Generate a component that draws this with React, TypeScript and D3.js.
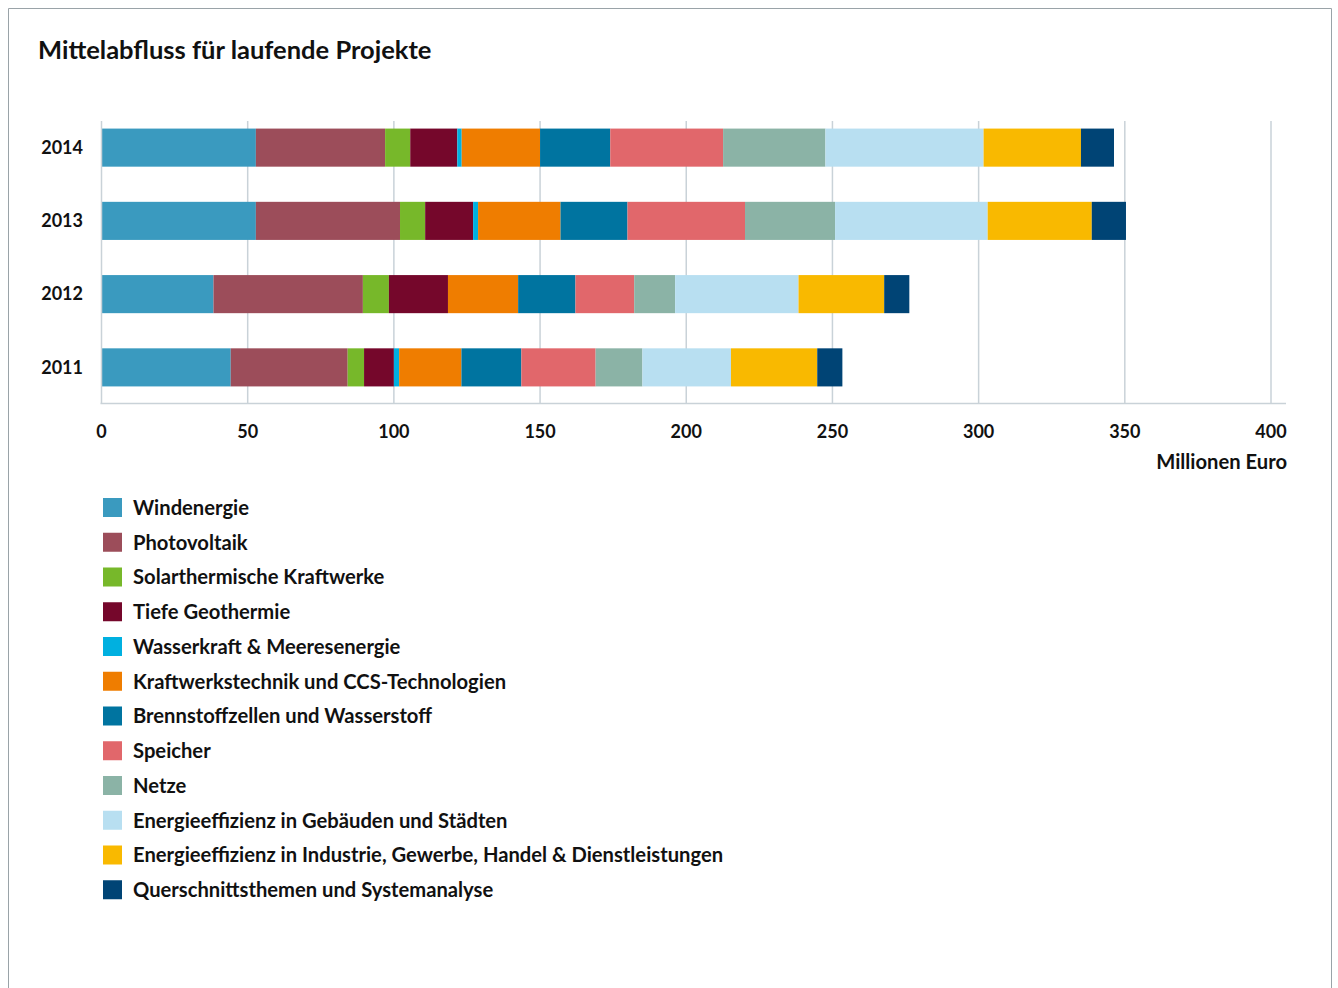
import React from "react";
import * as d3 from "d3";

const years = ["2014", "2013", "2012", "2011"];
const categories = [
  "Windenergie",
  "Photovoltaik",
  "Solarthermische Kraftwerke",
  "Tiefe Geothermie",
  "Wasserkraft & Meeresenergie",
  "Kraftwerkstechnik und CCS-Technologien",
  "Brennstoffzellen und Wasserstoff",
  "Speicher",
  "Netze",
  "Energieeffizienz in Gebäuden und Städten",
  "Energieeffizienz in Industrie, Gewerbe, Handel & Dienstleistungen",
  "Querschnittsthemen und Systemanalyse",
];
const colors = [
  "#3a9abf", "#9c4d5a", "#77b82a", "#75072b", "#00b0e0", "#ef7d00",
  "#0074a0", "#e1676b", "#8bb3a6", "#b8dff1", "#f9b900", "#004475",
];
// values per year, same order as categories (Mio. Euro)
const v2014 = [52.8, 44.2, 8.6, 16.1, 1.5, 26.8, 24.0, 38.6, 35.0, 54.1, 33.3, 11.3];
const v2013 = [52.8, 49.3, 8.6, 16.4, 1.7, 28.2, 22.9, 40.2, 30.8, 52.2, 35.6, 11.7];
const v2012 = [38.3, 51.1, 8.9, 20.2, 0, 24.0, 19.6, 20.1, 14.0, 42.2, 29.3, 8.6];
const v2011 = [44.2, 40.0, 5.6, 10.2, 1.8, 21.3, 20.5, 25.4, 16.0, 30.3, 29.5, 8.6];
const xTicks = [0, 50, 100, 150, 200, 250, 300, 350, 400];

const FONT = "Lato, 'Open Sans', sans-serif";

export default function App() {
  const W = 1338, H = 988;
  const rows = [v2014, v2013, v2012, v2011].map((vals, i) => {
    const r: any = { year: years[i] };
    categories.forEach((c, j) => (r[c] = vals[j]));
    return r;
  });
  const series = d3.stack().keys(categories)(rows);

  const x = d3.scaleLinear().domain([0, 400]).range([101.5, 1271]);
  const y = d3.scaleBand().domain(years).range([111, 404]).paddingInner(0.48).paddingOuter(0.24);

  const gridTop = 121, axisY = 403.5;

  return (
    <svg width={W} height={H} style={{ position: "absolute", left: 0, top: 0, display: "block" }} fontFamily={FONT}>
      <rect width={W} height={H} fill="#fff" />
      <path d={`M8.5,${H} V8.5 H1331.5 V${H}`} fill="none" stroke="#9aa3a8" strokeWidth={1} />
      <text x={38} y={59} fontSize={25.5} fontWeight={700} fill="#111">Mittelabfluss für laufende Projekte</text>

      {xTicks.slice(1).map((t) => (
        <line key={t} x1={x(t)} x2={x(t)} y1={gridTop} y2={axisY} stroke="#c9d2d8" strokeWidth={1.5} />
      ))}

      {series.map((s, i) => (
        <g key={s.key} fill={colors[i]}>
          {s.map((d: any) => (
            <rect key={d.data.year} x={x(d[0])} y={y(d.data.year)} width={Math.max(0, x(d[1]) - x(d[0]))} height={y.bandwidth()} />
          ))}
        </g>
      ))}

      <line x1={x(0)} x2={x(0)} y1={gridTop} y2={axisY} stroke="#c9d2d8" strokeWidth={1.5} />
      <line x1={x(0) - 1} x2={1286} y1={axisY} y2={axisY} stroke="#c9d2d8" strokeWidth={1.5} />

      {years.map((yr) => (
        <text key={yr} x={83} y={(y(yr) as number) + y.bandwidth() / 2} dy="0.35em" textAnchor="end" fontSize={18} fontWeight={700} fill="#111">{yr}</text>
      ))}

      {xTicks.map((t) => (
        <text key={t} x={x(t)} y={438} textAnchor="middle" fontSize={18} fontWeight={700} fill="#111">{t}</text>
      ))}
      <text x={1287} y={469} textAnchor="end" fontSize={20.2} fontWeight={700} fill="#111">Millionen Euro</text>

      {categories.map((c, i) => {
        const ly = 498 + i * 34.75;
        return (
          <g key={c}>
            <rect x={103} y={ly} width={19} height={19} fill={colors[i]} />
            <text x={133} y={ly + 9.5} dy="0.36em" fontSize={20.2} fontWeight={700} fill="#111">{c}</text>
          </g>
        );
      })}
    </svg>
  );
}
